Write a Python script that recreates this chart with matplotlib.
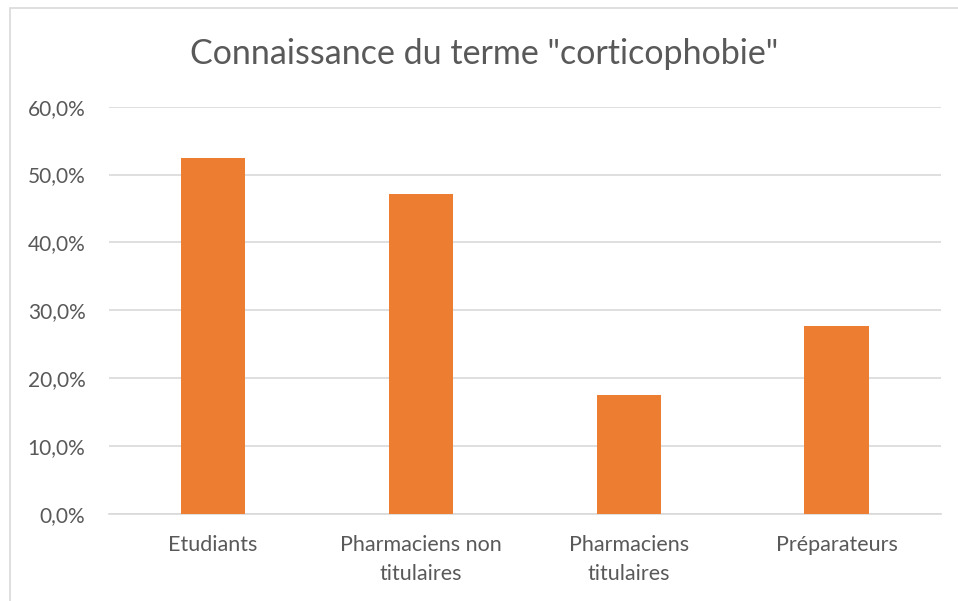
import matplotlib.pyplot as plt
from matplotlib.patches import Rectangle
from matplotlib.ticker import FuncFormatter

# Data
categories = ["Etudiants", "Pharmaciens non\ntitulaires", "Pharmaciens\ntitulaires", "Préparateurs"]
values = [52.4, 47.1, 17.5, 27.7]
yticks = [0, 10, 20, 30, 40, 50, 60]

plt.rcParams['font.family'] = ['Lato', 'DejaVu Sans']
grey = "#595959"

fig = plt.figure(figsize=(9.58, 6.01), dpi=100)
ax = fig.add_axes([0.1138, 0.1448, 0.868, 0.6777])

# chart outer border
fig.patches.append(Rectangle((10 / 958, -0.1), 1.2, 1.1 - 8 / 601, transform=fig.transFigure,
                             fill=False, edgecolor="#D9D9D9", lw=1.2))

x = range(len(categories))
ax.bar(x, values, width=0.31, color="#ED7D31", zorder=3)

ax.set_xlim(-0.5, len(categories) - 0.5)
ax.set_ylim(0, 60)
ax.set_yticks(yticks)
ax.yaxis.set_major_formatter(FuncFormatter(lambda v, p: f"{v:.1f}%".replace(".", ",")))
ax.set_xticks(list(x))
ax.set_xticklabels(categories, fontsize=15.5, color=grey, linespacing=1.55)
ax.tick_params(axis='y', labelsize=15, labelcolor=grey, length=0, pad=17)
ax.tick_params(axis='x', length=0, pad=15)

ax.grid(axis='y', color="#D9D9D9", lw=1.2, zorder=0)
for s in ["top", "right", "left"]:
    ax.spines[s].set_visible(False)
ax.spines["bottom"].set_color("#D9D9D9")
ax.spines["bottom"].set_linewidth(1.2)

fig.text(0.505, 0.91, 'Connaissance du terme "corticophobie"', ha='center', va='center',
         fontsize=24.5, color=grey)

fig.savefig("out.png", dpi=100)
